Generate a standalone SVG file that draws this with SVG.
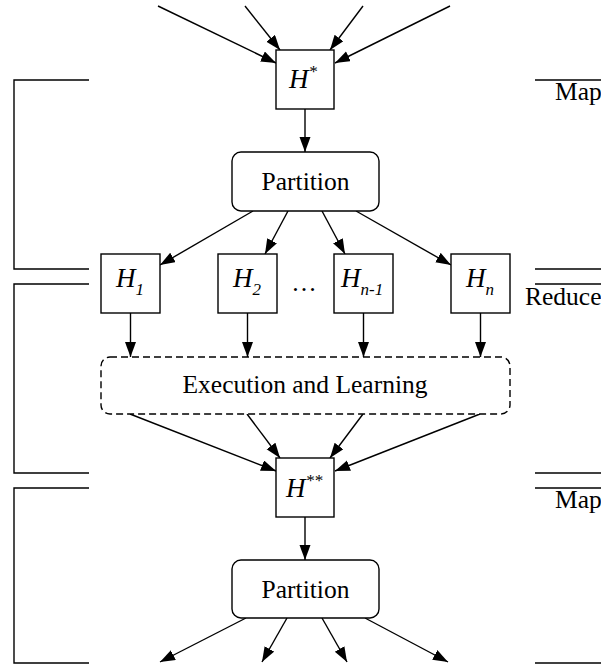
<svg xmlns="http://www.w3.org/2000/svg" width="601" height="664" viewBox="0 0 601 664">
  <style>
    .box { fill: #fff; stroke: #000; stroke-width: 1.4; }
    .dash { fill: #fff; stroke: #000; stroke-width: 1.4; stroke-dasharray: 7 4; }
    .edge { fill: none; stroke: #000; stroke-width: 1.4; marker-end: url(#arrow); }
    .rule { fill: none; stroke: #000; stroke-width: 1.4; }
    .lbl { font-family: "Liberation Serif", "Times New Roman", serif; font-size: 25.5px; fill: #000; }
    .hv { font-family: "Liberation Serif", "Times New Roman", serif; font-style: italic; font-size: 27px; fill: #000; }
  </style>
  <defs>
    <marker id="arrow" markerUnits="userSpaceOnUse" markerWidth="16" markerHeight="12" refX="15" refY="5.5" orient="auto">
      <path d="M0,0 L15,5.5 L0,11 z" fill="#000"/>
    </marker>
  </defs>
  <rect width="601" height="664" fill="#fff"/>

  <!-- phase brackets, left side -->
  <g id="brackets-left">
    <polyline class="rule" points="89,80 14,80 14,269 89,269"/>
    <polyline class="rule" points="89,284 14,284 14,473 89,473"/>
    <polyline class="rule" points="89,488 14,488 14,663 89,663"/>
  </g>

  <!-- phase markers, right side -->
  <g id="phases-right">
    <line class="rule" x1="535" y1="80" x2="601" y2="80"/>
    <text class="lbl" x="555" y="100">Map</text>
    <line class="rule" x1="535" y1="269" x2="601" y2="269"/>
    <line class="rule" x1="535" y1="284" x2="601" y2="284"/>
    <text class="lbl" x="525" y="305">Reduce</text>
    <line class="rule" x1="535" y1="473" x2="601" y2="473"/>
    <line class="rule" x1="535" y1="488" x2="601" y2="488"/>
    <text class="lbl" x="555" y="508">Map</text>
    <line class="rule" x1="535" y1="663" x2="601" y2="663"/>
  </g>

  <!-- connectors -->
  <g id="connectors">
    <line class="edge" x1="158" y1="6" x2="276" y2="63"/>
    <line class="edge" x1="245" y1="6" x2="280" y2="50"/>
    <line class="edge" x1="363" y1="6" x2="330" y2="50"/>
    <line class="edge" x1="450" y1="6" x2="335" y2="63"/>

    <line class="edge" x1="305" y1="109" x2="305" y2="152"/>

    <line class="edge" x1="253" y1="211" x2="160" y2="265"/>
    <line class="edge" x1="288" y1="211" x2="265" y2="254"/>
    <line class="edge" x1="322" y1="211" x2="345" y2="254"/>
    <line class="edge" x1="356" y1="211" x2="451" y2="265"/>

    <line class="edge" x1="130.5" y1="313" x2="130.5" y2="357"/>
    <line class="edge" x1="247.5" y1="313" x2="247.5" y2="357"/>
    <line class="edge" x1="363.5" y1="313" x2="363.5" y2="357"/>
    <line class="edge" x1="480.5" y1="313" x2="480.5" y2="357"/>

    <line class="edge" x1="130" y1="414" x2="276" y2="471"/>
    <line class="edge" x1="247" y1="414" x2="280" y2="458"/>
    <line class="edge" x1="363" y1="414" x2="330" y2="458"/>
    <line class="edge" x1="480" y1="414" x2="335" y2="471"/>

    <line class="edge" x1="305" y1="517" x2="305" y2="560"/>

    <line class="edge" x1="246" y1="618" x2="160" y2="662"/>
    <line class="edge" x1="287" y1="618" x2="262" y2="662"/>
    <line class="edge" x1="322" y1="618" x2="347" y2="662"/>
    <line class="edge" x1="365" y1="618" x2="448" y2="662"/>
  </g>

  <g id="h-star">
    <rect class="box" x="276" y="50" width="58" height="59"/>
    <text class="hv" x="289" y="88">H<tspan font-size="17" dy="-11">*</tspan></text>
  </g>

  <g id="partition-1">
    <rect class="box" x="232" y="152" width="147" height="59" rx="9"/>
    <text class="lbl" x="305.5" y="190" text-anchor="middle">Partition</text>
  </g>

  <g id="h-1">
    <rect class="box" x="101" y="254" width="59" height="59"/>
    <text class="hv" x="116" y="287">H<tspan font-size="17" dy="8">1</tspan></text>
  </g>

  <g id="h-2">
    <rect class="box" x="218" y="254" width="59" height="59"/>
    <text class="hv" x="233" y="287">H<tspan font-size="17" dy="8">2</tspan></text>
  </g>

  <g id="ellipsis">
    <text class="lbl" x="304" y="291" text-anchor="middle">…</text>
  </g>

  <g id="h-n-1">
    <rect class="box" x="334" y="254" width="59" height="59"/>
    <text class="hv" x="341" y="287">H<tspan font-size="17" dy="8">n-1</tspan></text>
  </g>

  <g id="h-n">
    <rect class="box" x="451" y="254" width="59" height="59"/>
    <text class="hv" x="466" y="287">H<tspan font-size="17" dy="8">n</tspan></text>
  </g>

  <g id="execution">
    <rect class="dash" x="101" y="357" width="409" height="57" rx="9"/>
    <text class="lbl" x="305" y="393" text-anchor="middle">Execution and Learning</text>
  </g>

  <g id="h-star-star">
    <rect class="box" x="276" y="458" width="58" height="59"/>
    <text class="hv" x="286" y="497">H<tspan font-size="17" dy="-11">**</tspan></text>
  </g>

  <g id="partition-2">
    <rect class="box" x="232" y="560" width="147" height="58" rx="9"/>
    <text class="lbl" x="305.5" y="598" text-anchor="middle">Partition</text>
  </g>
</svg>
